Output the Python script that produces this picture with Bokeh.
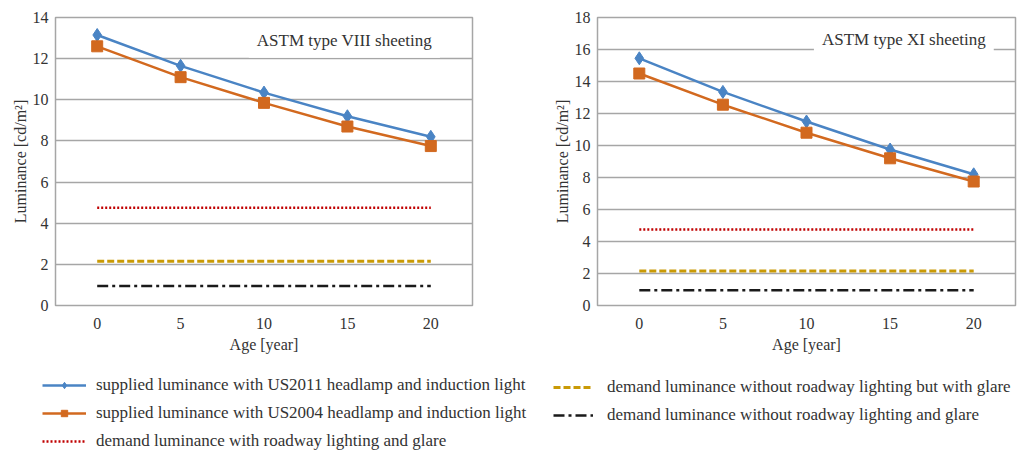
from bokeh.plotting import figure
from bokeh.layouts import column, row
from bokeh.models import FixedTicker, Label, Legend, LegendItem
from bokeh.embed import file_html
from bokeh.resources import INLINE

# ---------------- data ----------------
ages = [0, 5, 10, 15, 20]

viii_us2011 = [13.15, 11.65, 10.35, 9.2, 8.2]
viii_us2004 = [12.6, 11.1, 9.85, 8.7, 7.75]
xi_us2011 = [15.45, 13.35, 11.5, 9.75, 8.2]
xi_us2004 = [14.5, 12.55, 10.8, 9.2, 7.75]

demand_with_lighting_glare = [4.75, 4.75, 4.75, 4.75, 4.75]
demand_no_lighting_with_glare = [2.15, 2.15, 2.15, 2.15, 2.15]
demand_no_lighting_no_glare = [0.95, 0.95, 0.95, 0.95, 0.95]

x_ticks = [0, 5, 10, 15, 20]
viii_y_ticks = [0, 2, 4, 6, 8, 10, 12, 14]
xi_y_ticks = [0, 2, 4, 6, 8, 10, 12, 14, 16, 18]

labels = [
    "supplied luminance with US2011 headlamp and induction light",
    "supplied luminance with US2004 headlamp and induction light",
    "demand luminance with roadway lighting and glare",
    "demand luminance without roadway lighting but with glare",
    "demand luminance without roadway lighting and glare",
]

# ---------------- style ----------------
FONT = "Liberation Serif"
TXT = "#333333"
GRID = "#A6A6A6"
BLUE = "#4A84C4"
ORANGE = "#D2691F"
RED = "#C00000"
GOLD = "#C99A06"
BLACK = "#1A1A1A"


def draw_series(p, s2011, s2004):
    r = {}
    r["b_line"] = p.line(ages, s2011, line_color=BLUE, line_width=2.5)
    r["b_mark"] = p.scatter(ages, s2011, marker="diamond", size=13,
                            fill_color=BLUE, line_color=BLUE)
    r["o_line"] = p.line(ages, s2004, line_color=ORANGE, line_width=2.5)
    r["o_mark"] = p.scatter(ages, s2004, marker="square", size=11,
                            fill_color=ORANGE, line_color=ORANGE)
    r["red"] = p.line(ages, demand_with_lighting_glare, line_color=RED,
                      line_width=2.5, line_dash="2 2")
    r["gold"] = p.line(ages, demand_no_lighting_with_glare, line_color=GOLD,
                       line_width=3, line_dash="7 3")
    r["black"] = p.line(ages, demand_no_lighting_no_glare, line_color=BLACK,
                        line_width=2.5, line_dash="11 4 3 4")
    return r


def make_chart(width, ymax, yticks, left_border, right_border, title, title_x, title_y):
    p = figure(width=width, height=372, x_range=(-2.5, 22.5), y_range=(0, ymax),
               output_backend="svg", toolbar_location=None,
               min_border_left=left_border, min_border_right=right_border,
               min_border_top=17, min_border_bottom=67,
               outline_line_color=GRID, outline_line_width=1.5,
               background_fill_color="white", border_fill_color="white")
    p.xaxis.ticker = FixedTicker(ticks=x_ticks)
    p.yaxis.ticker = FixedTicker(ticks=yticks)
    for ax in (p.xaxis[0], p.yaxis[0]):
        ax.axis_line_color = None
        ax.major_tick_line_color = None
        ax.minor_tick_line_color = None
        ax.major_tick_out = 0
        ax.major_tick_in = 0
        ax.major_label_text_font = FONT
        ax.major_label_text_font_size = "16px"
        ax.major_label_text_color = TXT
        ax.axis_label_text_font = FONT
        ax.axis_label_text_font_size = "16px"
        ax.axis_label_text_font_style = "normal"
        ax.axis_label_text_color = TXT
    p.xaxis.major_label_standoff = 12
    p.xaxis.axis_label_standoff = 4
    p.yaxis.major_label_standoff = 7
    p.yaxis.axis_label_standoff = 1
    p.xaxis.axis_label = "Age [year]"
    p.yaxis.axis_label = "Luminance [cd/m\u00b2]"
    p.xgrid.grid_line_color = None
    p.ygrid.grid_line_color = GRID
    p.ygrid.grid_line_width = 1.5
    lab = Label(x=title_x, y=title_y, text=title, text_align="right",
                text_baseline="middle", text_font=FONT, text_font_size="17px",
                text_color=TXT, background_fill_color="white",
                background_fill_alpha=1.0, padding=8)
    p.add_layout(lab)
    return p


p1 = make_chart(540, 14, viii_y_ticks, 55, 68, "ASTM type VIII sheeting", 20.55, 12.9)
r1 = draw_series(p1, viii_us2011, viii_us2004)

p2 = make_chart(481, 18, xi_y_ticks, 57, 6, "ASTM type XI sheeting", 21.2, 16.6)
r2 = draw_series(p2, xi_us2011, xi_us2004)

# ---------------- legend panel ----------------
leg = figure(width=1021, height=79, x_range=(0, 1), y_range=(-10, -9),
             output_backend="svg", toolbar_location=None,
             min_border_left=0, min_border_right=0, min_border_top=0,
             min_border_bottom=0, outline_line_color=None)
leg.axis.visible = False
leg.grid.visible = False
rl = draw_series(leg, viii_us2011, viii_us2004)

items1 = [
    LegendItem(label=labels[0], renderers=[rl["b_line"], rl["b_mark"]]),
    LegendItem(label=labels[1], renderers=[rl["o_line"], rl["o_mark"]]),
    LegendItem(label=labels[2], renderers=[rl["red"]]),
]
items2 = [
    LegendItem(label=labels[3], renderers=[rl["gold"]]),
    LegendItem(label=labels[4], renderers=[rl["black"]]),
]


def style_legend(lg, gw, standoff):
    lg.glyph_width = gw
    lg.glyph_height = 16
    lg.label_height = 16
    lg.label_standoff = standoff
    lg.spacing = 8
    lg.padding = 0
    lg.margin = 0
    lg.border_line_color = None
    lg.background_fill_alpha = 0
    lg.label_text_font = FONT
    lg.label_text_font_size = "17px"
    lg.label_text_color = TXT


lg1 = Legend(items=items1, location=(42, 0))
style_legend(lg1, 44, 10)
lg2 = Legend(items=items2, location=(553, 26))
style_legend(lg2, 40, 14)
leg.add_layout(lg1, "center")
leg.add_layout(lg2, "center")

layout = column(row(p1, p2, spacing=0), leg, spacing=0)

open("out.html", "w").write(file_html(layout, INLINE))
